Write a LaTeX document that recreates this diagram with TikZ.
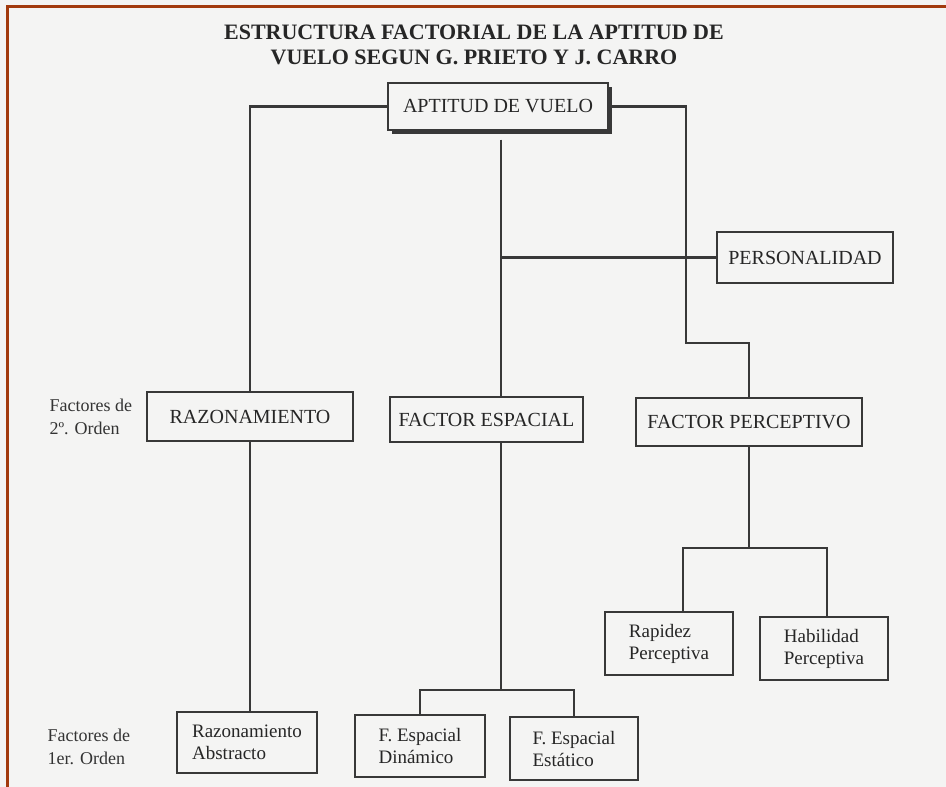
\documentclass[tikz,border=0pt]{standalone}
\usepackage{fontspec}
\setmainfont{Liberation Serif}
\definecolor{scanbg}{HTML}{F4F4F3}
\definecolor{frameRust}{HTML}{A23A0E}
\definecolor{inkgrey}{HTML}{383838}
\usetikzlibrary{shadows}

\begin{document}
\begin{tikzpicture}[x=1pt,y=-1pt,
  box/.style={draw=inkgrey,line width=1.1pt,fill=scanbg,inner sep=0pt,align=center,text=black!85},
  capsbox/.style={box,font=\fontsize{20}{22}\selectfont},
  smallbox/.style={box,align=left,font=\fontsize{19}{22}\selectfont},
  conn/.style={draw=inkgrey,line width=2.8pt},
  sidelabel/.style={align=left,anchor=west,font=\fontsize{18}{23}\selectfont,text=black!80}]
  \useasboundingbox (0,0) rectangle (946,787);
  \fill[scanbg] (0,0) rectangle (946,787);
  \draw[frameRust,line width=3pt] (7.5,787) -- (7.5,6.5) -- (946,6.5);

  \node[font=\bfseries\fontsize{22}{25}\selectfont,align=center,text=black!85] (title) at (474,45)
    {ESTRUCTURA FACTORIAL DE LA APTITUD DE\\VUELO SEGUN G. PRIETO Y J. CARRO};

  % top of the tree
  \node[capsbox,minimum width=220pt,minimum height=47pt,
    drop shadow={shadow xshift=4pt,shadow yshift=-4pt,fill=inkgrey,opacity=1}] (aptitud) at (498,106.5) {APTITUD DE VUELO};
  \node[capsbox,minimum width=176pt,minimum height=51pt] (personal) at (805,257.5) {PERSONALIDAD};

  % second order
  \node[sidelabel] (orden2) at (46,417) {Factores de\\2º. Orden};
  \node[capsbox,minimum width=206pt,minimum height=49pt] (razon) at (250,416.5) {RAZONAMIENTO};
  \node[capsbox,minimum width=193pt,minimum height=45pt] (espacial) at (486.5,419.5) {FACTOR ESPACIAL};
  \node[capsbox,minimum width=226pt,minimum height=48pt] (percep) at (749,422) {FACTOR PERCEPTIVO};

  % first order
  \node[smallbox,minimum width=128pt,minimum height=63pt] (rapidez) at (669,643.5) {Rapidez\\Perceptiva};
  \node[smallbox,minimum width=128pt,minimum height=63pt] (habil) at (824,648.5) {Habilidad\\Perceptiva};
  \node[sidelabel] (orden1) at (44,747) {Factores de\\1er. Orden};
  \node[smallbox,minimum width=140pt,minimum height=61pt] (abstracto) at (247,742.5) {Razonamiento\\Abstracto};
  \node[smallbox,minimum width=130pt,minimum height=62pt] (dinamico) at (420,746) {F. Espacial\\Dinámico};
  \node[smallbox,minimum width=128pt,minimum height=63pt] (estatico) at (574,748.5) {F. Espacial\\Estático};

  \coordinate (midtop) at ([xshift=3pt,yshift=-9pt]aptitud.south);
  \coordinate (bendP) at (686,343);
  \coordinate (splitE) at (midtop |- 0,690);
  \coordinate (splitP) at (749,548);

  \draw[conn] (aptitud.west) -| (razon.north);
  \draw[conn] (aptitud.east) -| (bendP) -| (percep.north);
  \draw[conn] (midtop) -- (midtop |- espacial.north);
  \draw[conn] (midtop |- personal.west) -- (personal.west);
  \draw[conn] (razon.south) -- (razon.south |- abstracto.north);
  \draw[conn] (midtop |- espacial.south) -- (splitE);
  \draw[conn] (dinamico.north) |- (splitE) -| (estatico.north);
  \draw[conn] (percep.south) -- (splitP);
  \draw[conn] ([xshift=14pt]rapidez.north) |- (splitP) -| ([xshift=3pt]habil.north);
\end{tikzpicture}
\end{document}
